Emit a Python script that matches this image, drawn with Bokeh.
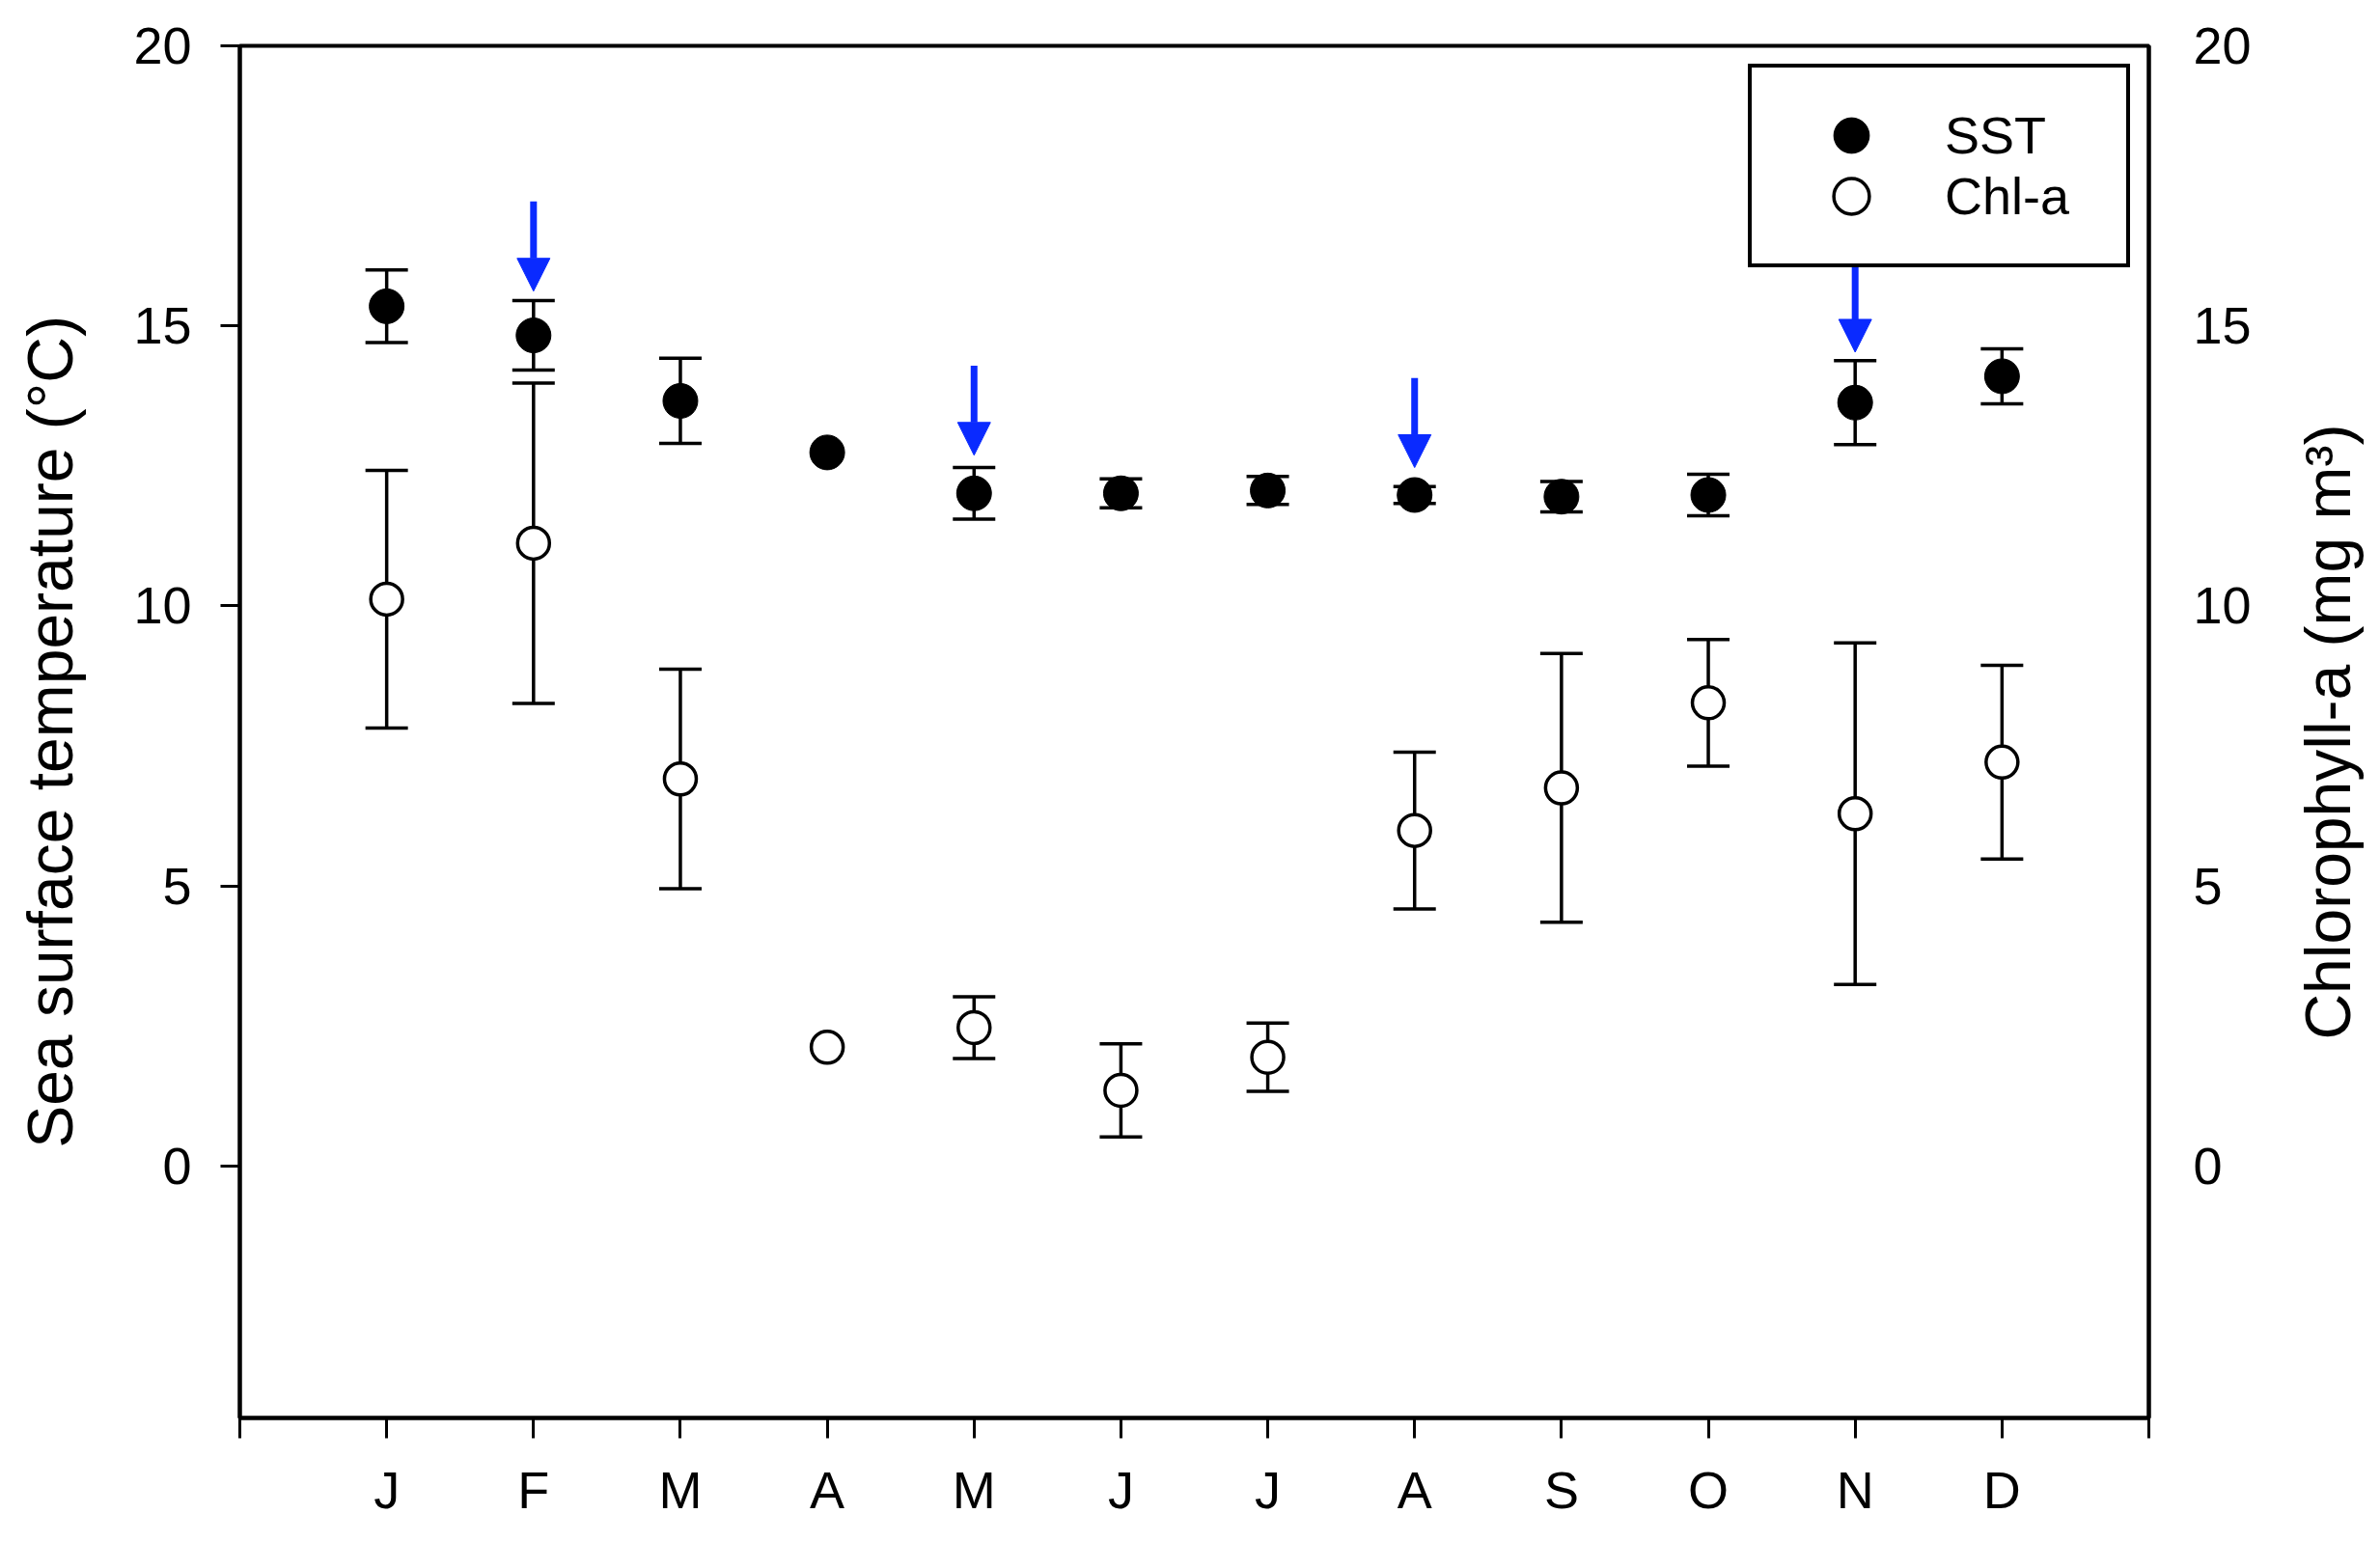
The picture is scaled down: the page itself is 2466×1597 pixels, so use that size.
import math
from bokeh.plotting import figure
from bokeh.models import (ColumnDataSource, Range1d, LinearAxis, FixedTicker,
                          Whisker, TeeHead, Arrow, NormalHead, Label)
from bokeh.embed import file_html
from bokeh.resources import INLINE

# ---------------- data ----------------
months = ["J", "F", "M", "A", "M", "J", "J", "A", "S", "O", "N", "D"]
sst = [15.35, 14.83, 13.66, 12.74, 12.01, 12.01, 12.06, 11.98, 11.95, 11.98, 13.63, 14.10]
sst_err = [0.65, 0.62, 0.76, 0.0, 0.46, 0.26, 0.25, 0.15, 0.27, 0.37, 0.75, 0.49]
chl = [10.12, 11.12, 6.91, 2.12, 2.47, 1.35, 1.94, 5.99, 6.75, 8.27, 6.29, 7.21]
chl_err = [2.30, 2.86, 1.96, 0.0, 0.55, 0.83, 0.61, 1.40, 2.40, 1.13, 3.05, 1.73]
arrow_month = [2, 5, 8, 11]
arrow_tip = [15.62, 12.69, 12.47, 14.53]
arrow_len = 1.6
y_ticks = [0, 5, 10, 15, 20]

FONT = "Liberation Sans"
BLUE = "#0a2aff"

x = list(range(1, len(months) + 1))

p = figure(width=2456, height=1585, x_range=Range1d(0, 13), y_range=Range1d(-4.5, 20),
           output_backend="svg", toolbar_location=None,
           min_border_left=248, min_border_right=230, min_border_top=47, min_border_bottom=116)
p.extra_y_ranges = {"chl": Range1d(-4.5, 20)}
p.grid.visible = False
p.outline_line_color = "black"
p.outline_line_width = 4
p.outline_line_alpha = 1
p.background_fill_color = "white"
p.border_fill_color = "white"

# x axis
xa = p.xaxis[0]
xa.ticker = FixedTicker(ticks=list(range(0, 14)))
ov = {0: "", 13: ""}
for i, m in zip(x, months):
    ov[i] = m
xa.major_label_overrides = ov
xa.minor_tick_line_color = None
xa.major_tick_out = 21
xa.major_tick_in = 0
xa.major_tick_line_width = 3
xa.major_tick_line_color = "black"
xa.axis_line_width = 4
xa.axis_line_color = "black"
xa.major_label_text_font = FONT
xa.major_label_text_font_size = "54px"
xa.major_label_text_color = "black"
xa.major_label_standoff = 23

# left axis
ya = p.yaxis[0]
ya.ticker = FixedTicker(ticks=y_ticks)
ya.minor_tick_line_color = None
ya.major_tick_out = 20
ya.major_tick_in = 0
ya.major_tick_line_width = 3
ya.major_tick_line_color = "black"
ya.axis_line_width = 4
ya.axis_line_color = "black"
ya.major_label_text_font = FONT
ya.major_label_text_font_size = "54px"
ya.major_label_text_color = "black"
ya.major_label_standoff = 30
ya.axis_label = "Sea surface temperature (°C)"
ya.axis_label_text_font = FONT
ya.axis_label_text_font_size = "66px"
ya.axis_label_text_font_style = "normal"
ya.axis_label_text_color = "black"
ya.axis_label_standoff = 46

# right axis
ra = LinearAxis(y_range_name="chl", ticker=FixedTicker(ticks=y_ticks))
ra.minor_tick_line_color = None
ra.major_tick_out = 0
ra.major_tick_in = 0
ra.major_tick_line_color = None
ra.axis_line_width = 4
ra.axis_line_color = "black"
ra.major_label_text_font = FONT
ra.major_label_text_font_size = "54px"
ra.major_label_text_color = "black"
ra.major_label_standoff = 46
p.add_layout(ra, "right")

# right axis title (reads bottom-to-top, centred on the frame)
chl_rng = p.extra_y_ranges["chl"]
ymid = (chl_rng.start + chl_rng.end) / 2
p.add_layout(Label(x=p.x_range.end, y=ymid,
                   x_offset=185, angle=90, angle_units="deg",
                   text="Chlorophyll-a (mg m³)", text_font=FONT, text_font_size="66px",
                   text_color="black", text_align="center", text_baseline="middle"), "right")

# error bars
def whisker_source(vals, errs):
    xs, lo, up = [], [], []
    for xi, v, e in zip(x, vals, errs):
        if e > 0:
            xs.append(xi)
            lo.append(v - e)
            up.append(v + e)
    return ColumnDataSource(dict(x=xs, lower=lo, upper=up))

for vals, errs, rng in ((sst, sst_err, "default"), (chl, chl_err, "chl")):
    w = Whisker(source=whisker_source(vals, errs), base="x", lower="lower", upper="upper",
                dimension="height", line_width=3.5, line_color="black",
                upper_head=TeeHead(size=44, line_width=3.5, line_color="black"),
                lower_head=TeeHead(size=44, line_width=3.5, line_color="black"),
                level="underlay", y_range_name=rng)
    p.add_layout(w)

# markers (screen-sized circles)
src = ColumnDataSource(dict(x=x, sst=sst, chl=chl))
p.ellipse("x", "sst", source=src, width=36, height=36, width_units="screen",
          height_units="screen", fill_color="black", line_color="black",
          line_width=1, legend_label="SST")
p.ellipse("x", "chl", source=src, width=33, height=33, width_units="screen",
          height_units="screen", fill_color="white", line_color="black",
          line_width=3.5, y_range_name="chl", legend_label="Chl-a")

# arrows
asrc = ColumnDataSource(dict(x=arrow_month,
                             ys=[t + arrow_len for t in arrow_tip],
                             ye=arrow_tip))
p.add_layout(Arrow(source=asrc, x_start="x", y_start="ys", x_end="x", y_end="ye",
                   line_color=BLUE, line_width=7,
                   end=NormalHead(size=34, fill_color=BLUE, line_color=BLUE, line_width=1)))

# legend
leg = p.legend[0]
leg.location = "top_right"
leg.margin = 19
leg.label_text_font = FONT
leg.label_text_font_size = "54px"
leg.label_text_color = "black"
leg.border_line_color = "black"
leg.border_line_width = 4
leg.border_line_alpha = 1
leg.background_fill_color = "white"
leg.background_fill_alpha = 1
leg.padding = 39
leg.spacing = 1
leg.glyph_width = 128
leg.glyph_height = 46
leg.label_height = 62
leg.label_standoff = 33
leg.label_width = 149

open("out.html", "w").write(file_html(p, INLINE))
